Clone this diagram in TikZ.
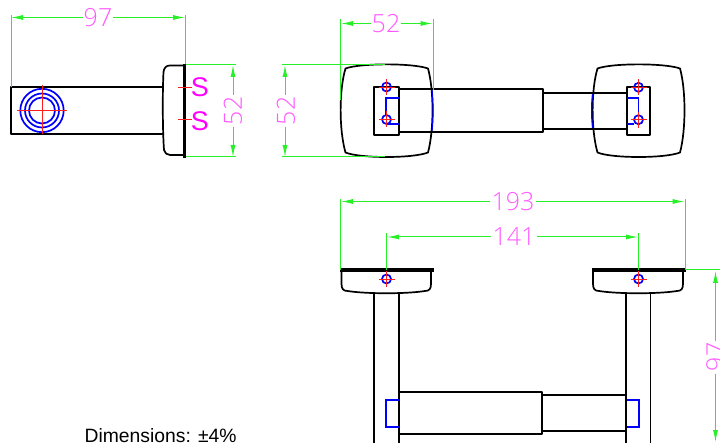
\documentclass[tikz,border=0pt]{standalone}
\usepackage{fontspec}
\setmainfont{Liberation Sans}
\newfontfamily\cadfont{Open Sans Light}
\usetikzlibrary{arrows.meta}
\definecolor{dimg}{RGB}{40,240,40}
\definecolor{dimt}{RGB}{255,90,255}
\definecolor{mag}{RGB}{255,0,255}
\definecolor{cadb}{RGB}{0,0,255}
\definecolor{cadr}{RGB}{255,30,30}
\tikzset{
 dimline/.style={draw=dimg,line width=1pt},
 dimarrow/.style={draw=dimg,line width=1pt,-{Latex[length=12pt,width=5pt,fill=dimg]}},
 dimtext/.style={text=dimt,font=\cadfont\fontsize{25}{25}\selectfont,inner sep=0pt},
 obj/.style={draw=black,line width=1.7pt,line join=round},
 thickobj/.style={draw=black,line width=3.2pt},
 blueobj/.style={draw=cadb,line width=1.7pt},
 redobj/.style={draw=cadr,line width=0.7pt},
 stext/.style={text=mag,font=\fontsize{27}{27}\selectfont,inner sep=0pt},
}
\newcommand{\plate}[2]{% left, right edge
 \draw[obj] (#1+5.5,68.5) .. controls (#1+20,63) and (#2-20,63) .. (#2-5,68.5)
  .. controls (#2+1,90) and (#2+1,130) .. (#2-5,152.5)
  .. controls (#2-20,158.5) and (#1+20,158.5) .. (#1+5.5,152.5)
  .. controls (#1-1,130) and (#1-1,90) .. (#1+5.5,68.5) -- cycle;}
\newcommand{\holecross}[2]{%
 \draw[blueobj] (#1,#2) circle (4.5);
 \draw[redobj] (#1-8,#2) -- (#1+8,#2) (#1,#2-8) -- (#1,#2+8);}
\newcommand{\capshape}[2]{%
 \draw[obj] (#1,270) -- (#1,284) .. controls (#1,289) and (#1+2,291) .. (#1+6,291)
  .. controls (#1+25,294) and (#2-25,294) .. (#2-6,291)
  .. controls (#2-2,291) and (#2,289) .. (#2,284) -- (#2,270);}
\begin{document}
\begin{tikzpicture}[x=1pt,y=-1pt]
\useasboundingbox (0,0) rectangle (720,443);
\fill[white] (0,0) rectangle (720,443);
% ---- side view
\draw[obj,line width=2pt] (164,87) -- (11,87) -- (11,134) -- (164,134);
\foreach \r in {21.7,17,13} \draw[blueobj] (42,110.5) circle (\r);
\draw[redobj] (17,110.5) -- (67,110.5) (42,85) -- (42,134);
\draw[obj] (184,65.5) -- (170,65.5) .. controls (166,65.5) and (164,68) .. (163.5,72)
  .. controls (162.5,90) and (162.5,130) .. (164,150) .. controls (164.5,153) and (167,155) .. (170,155) -- (184,155);
\draw[thickobj] (184.5,64) -- (184.5,158);
\draw[redobj] (178,87.5) -- (192,87.5) (178,119.5) -- (192,119.5);
\node[stext] (s1) at (200,87) {S};
\node[stext] (s2) at (200,121) {S};
% dim 97 top
\coordinate (a1) at (11,17.5); \coordinate (a2) at (185,17.5);
\node[dimtext] (t97) at (98,17.5) {97};
\draw[dimline] (11,87) -- (11,15) (185,64) -- (185,15);
\draw[dimarrow] (t97.west) ++(-1,0) -- (a1);
\draw[dimarrow] (t97.east) ++(1,0) -- (a2);
% dim 52 right of side view
\coordinate (b1) at (233,65); \coordinate (b2) at (233,157);
\node[dimtext,rotate=90] (t52a) at (233,111) {52};
\draw[dimline] (186,64.5) -- (236,64.5) (186,157) -- (236,157);
\draw[dimarrow] (233,95) -- (b1);
\draw[dimarrow] (233,127) -- (b2);
% ---- top view
\plate{340}{433}
\plate{592}{685}
\draw[draw=cadb,line width=1.2pt] (431.9,89) .. controls (433.4,103) and (433.4,118) .. (431.9,132);
\draw[draw=cadb,line width=1.2pt] (592.6,93) .. controls (591.3,105) and (591.3,116) .. (592.6,128);
\draw[obj,line width=2pt] (374,86.7) rectangle (399.3,134.7);
\draw[obj,line width=2pt] (626.5,86.7) rectangle (650,134.7);
\draw[obj] (399.3,89) -- (543,89) -- (543,132) -- (399.3,132);
\draw[obj] (543,92.7) -- (626.5,92.7) (543,128.7) -- (626.5,128.7);
\draw[blueobj] (399,98) -- (386,98) -- (386,115) (386,124) -- (399,124);
\draw[blueobj] (627,98) -- (638.5,98) -- (638.5,115) (627,124) -- (634,124);
\holecross{386.5}{87}
\holecross{386.5}{119.5}
\holecross{638.5}{87.3}
\holecross{638.5}{119.7}
% dim 52 top
\coordinate (c1) at (341,23.5); \coordinate (c2) at (432.5,23.5);
\node[dimtext] (t52b) at (386,24) {52};
\draw[dimline] (340,19) -- (340,100) (433,19) -- (433,90);
\draw[dimarrow] (t52b.west) ++(-1,-0.5) -- (c1);
\draw[dimarrow] (t52b.east) ++(1,-0.5) -- (c2);
% dim 52 left
\coordinate (d1) at (285,65); \coordinate (d2) at (285,157);
\node[dimtext,rotate=90] (t52c) at (286,111) {52};
\draw[dimline] (282,64.5) -- (385,64.5) (282,157) -- (385,157);
\draw[dimarrow] (285,95) -- (d1);
\draw[dimarrow] (285,127) -- (d2);
% ---- bottom view
\capshape{341.5}{431}
\capshape{593}{683}
\draw[thickobj] (340,270) -- (433.5,270);
\draw[thickobj] (591.5,270) -- (685.5,270);
\draw[obj] (374,293) -- (374,443) (398.7,293) -- (398.7,443);
\draw[obj] (626.3,293) -- (626.3,443) (650.5,293) -- (650.5,443);
\draw[obj] (399.3,392.3) -- (542.3,392.3) -- (542.3,434.3) -- (399.3,434.3) -- cycle;
\draw[obj] (542.3,395.3) -- (626.3,395.3) (542.3,431) -- (626.3,431);
\draw[blueobj] (399,400) -- (386,400) -- (386,427) -- (399,427);
\draw[blueobj] (627,400) -- (639,400) -- (639,427) -- (627,427);
\holecross{386.5}{279}
\holecross{638.5}{279}
% dims 193, 141
\coordinate (e1) at (341,201.5); \coordinate (e2) at (684.5,201.5);
\node[dimtext] (t193) at (513,202) {193};
\draw[dimline] (340.5,199) -- (340.5,270) (685,199) -- (685,270);
\draw[dimarrow] (t193.west) ++(-1,-0.5) -- (e1);
\draw[dimarrow] (t193.east) ++(1,-0.5) -- (e2);
\coordinate (f1) at (387,237); \coordinate (f2) at (638,237);
\node[dimtext] (t141) at (514,236.5) {141};
\draw[dimline] (386.5,233) -- (386.5,270) (638.5,233) -- (638.5,270);
\draw[dimarrow] (t141.west) ++(-1,0.5) -- (f1);
\draw[dimarrow] (t141.east) ++(1,0.5) -- (f2);
% dim 97 right
\coordinate (g1) at (715.5,271); \coordinate (g2) at (715.5,442);
\node[dimtext,rotate=90] (t97b) at (715.5,357) {97};
\draw[dimline] (686,270) -- (720,270);
\draw[dimarrow] (715.5,341) -- (g1);
\draw[dimarrow] (715.5,374) -- (g2);
% note
\node[anchor=base west,inner sep=0pt,font=\fontsize{19.3}{19.3}\selectfont] (note) at (84.5,442.5) {Dimensions: ±4\%};
\end{tikzpicture}
\end{document}
